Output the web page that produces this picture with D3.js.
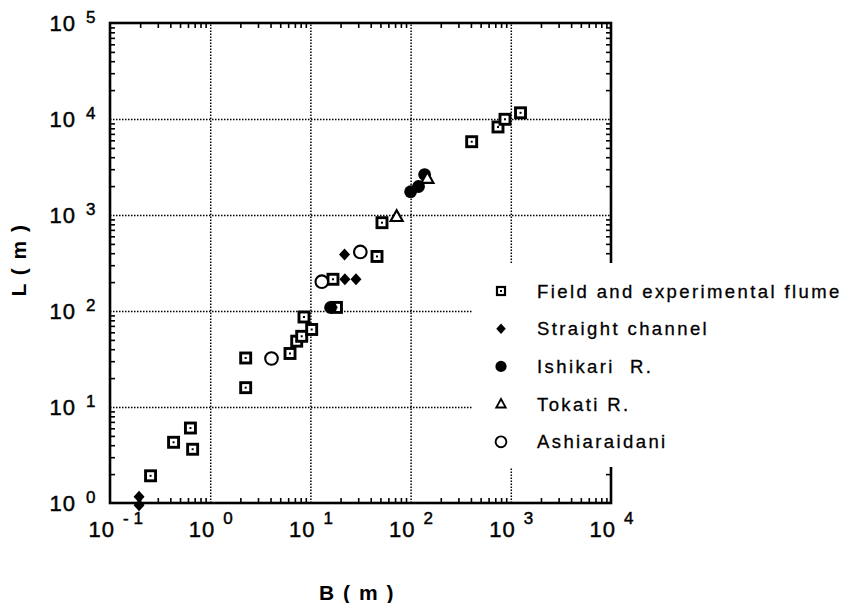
<!DOCTYPE html>
<html><head><meta charset="utf-8">
<script src="https://cdn.jsdelivr.net/npm/d3@7"></script>
<style>
html,body{margin:0;padding:0;background:#fff;}
svg{display:block;font-family:"Liberation Sans",Arial,Helvetica,sans-serif;}
</style></head><body>
<svg id="chart" width="848" height="603"></svg>
<script>
// Meander wavelength L against channel width B
const fieldB = [0.254, 0.431, 0.635, 0.668, 2.26, 2.26, 6.26, 7.30, 8.19, 8.63, 10.3, 16.8, 18.2, 46.2, 51.8, 407, 745, 875, 1250];
const fieldL = [1.92, 4.29, 6.04, 3.63, 32.4, 15.9, 36.1, 48.5, 54.5, 86.6, 64.2, 214, 109, 370, 832, 5800, 8260, 9930, 11600];
const straightB = [0.195, 0.195, 21.9, 22.1, 28.5];
const straightL = [1.16, 0.95, 388, 214, 214];
const ishikariB = [15.9, 100, 120, 138];
const ishikariL = [109, 1750, 1980, 2640];
const tokatiB = [72.6, 147];
const tokatiL = [960, 2400];
const ashiaraidaniB = [4.09, 13.0, 31.5];
const ashiaraidaniL = [32.0, 202, 412];

const xExponents = [-1, 0, 1, 2, 3, 4];
const yExponents = [0, 1, 2, 3, 4, 5];
const legendLabels = ["Field and experimental flume", "Straight channel", "Ishikari  R.", "Tokati R.", "Ashiaraidani"];
const xTitle = "B ( m )";
const yTitle = "L ( m )";

const svg = d3.select("#chart");
const plotLeft = 110, plotRight = 611, plotTop = 23, plotBottom = 503;

const x = d3.scaleLog().domain([0.1, 1e4]).range([plotLeft, plotRight]);
const y = d3.scaleLog().domain([1, 1e5]).range([plotBottom, plotTop]);

const decadesX = xExponents.map(e => Math.pow(10, e));
const decadesY = yExponents.map(e => Math.pow(10, e));
const minorOf = decs => {
  const out = [];
  decs.slice(0, -1).forEach(d => { for (let k = 2; k <= 9; k++) out.push(d * k); });
  return out;
};
const minorX = minorOf(decadesX), minorY = minorOf(decadesY);

// dotted grid at each decade
const gridStyle = g => {
  g.select(".domain").remove();
  g.selectAll(".tick line").attr("stroke", "#000").attr("stroke-width", 1.5).attr("stroke-dasharray", "1.5,1.5");
};
svg.append("g").attr("transform", `translate(0,${plotBottom})`)
  .call(d3.axisBottom(x).tickValues(decadesX.slice(1, -1)).tickSize(-(plotBottom - plotTop)).tickFormat(""))
  .call(gridStyle);
svg.append("g").attr("transform", `translate(${plotLeft},0)`)
  .call(d3.axisLeft(y).tickValues(decadesY.slice(1, -1)).tickSize(-(plotRight - plotLeft)).tickFormat(""))
  .call(gridStyle);

// inward minor ticks on all four sides
const tickStyle = g => {
  g.select(".domain").remove();
  g.selectAll(".tick line").attr("stroke", "#000").attr("stroke-width", 1.6);
};
const tl = 5;
svg.append("g").attr("transform", `translate(0,${plotBottom})`)
  .call(d3.axisBottom(x).tickValues(minorX).tickSize(-tl).tickFormat("")).call(tickStyle);
svg.append("g").attr("transform", `translate(0,${plotTop})`)
  .call(d3.axisTop(x).tickValues(minorX).tickSize(-tl).tickFormat("")).call(tickStyle);
svg.append("g").attr("transform", `translate(${plotLeft},0)`)
  .call(d3.axisLeft(y).tickValues(minorY).tickSize(-tl).tickFormat("")).call(tickStyle);
svg.append("g").attr("transform", `translate(${plotRight},0)`)
  .call(d3.axisRight(y).tickValues(minorY).tickSize(-tl).tickFormat("")).call(tickStyle);

// frame
svg.append("rect").attr("x", plotLeft).attr("y", plotTop)
  .attr("width", plotRight - plotLeft).attr("height", plotBottom - plotTop)
  .attr("fill", "none").attr("stroke", "#000").attr("stroke-width", 2.6);

// tick labels: 10 with raised exponent
const labelInk = g => g.attr("fill", "#000").attr("stroke", "#000").attr("stroke-width", 0.45);
const xl = svg.append("g").call(labelInk);
xExponents.forEach(e => {
  const px = x(Math.pow(10, e));
  xl.append("text").attr("x", px + 5).attr("y", 537).attr("text-anchor", "end")
    .attr("font-size", 22).attr("letter-spacing", 1).text("10");
  xl.append("text").attr("x", px + 13).attr("y", 524).attr("text-anchor", "start")
    .attr("font-size", 17).style("white-space", "pre").text(e < 0 ? "- " + Math.abs(e) : String(e));
});
const yl = svg.append("g").call(labelInk);
yExponents.forEach(e => {
  const py = y(Math.pow(10, e));
  yl.append("text").attr("x", 76).attr("y", py + 7.8).attr("text-anchor", "end")
    .attr("font-size", 22).attr("letter-spacing", 1).text("10");
  yl.append("text").attr("x", 86).attr("y", py - 0.5).attr("text-anchor", "start")
    .attr("font-size", 17).text(String(e));
});

// axis titles
svg.append("text").attr("x", 357).attr("y", 600).attr("text-anchor", "middle")
  .attr("font-size", 21).attr("font-weight", "bold").attr("letter-spacing", 1.5)
  .style("white-space", "pre").text(xTitle);
svg.append("text").attr("transform", "translate(26,260) rotate(-90)").attr("text-anchor", "middle")
  .attr("font-size", 21).attr("font-weight", "bold").attr("letter-spacing", 1.5)
  .style("white-space", "pre").text(yTitle);

// marker shapes
const drawSquare = (g, cx, cy, s, sw) => {
  g.append("rect").attr("x", cx - s / 2).attr("y", cy - s / 2).attr("width", s).attr("height", s)
    .attr("fill", "#fff").attr("stroke", "#000").attr("stroke-width", sw);
  g.append("rect").attr("x", cx - 1).attr("y", cy - 1).attr("width", 2).attr("height", 2).attr("fill", "#000");
};
const drawDiamond = (g, cx, cy, w, h) => {
  g.append("path").attr("d", `M${cx},${cy - h / 2}L${cx + w / 2},${cy}L${cx},${cy + h / 2}L${cx - w / 2},${cy}Z`)
    .attr("fill", "#000");
};
const drawDot = (g, cx, cy, r) => {
  g.append("circle").attr("cx", cx).attr("cy", cy).attr("r", r).attr("fill", "#000");
};
const drawTriangle = (g, cx, cy, w, sw) => {
  const h = w * 0.9;
  g.append("path").attr("d", `M${cx},${cy - h * 0.6}L${cx + w / 2},${cy + h * 0.4}L${cx - w / 2},${cy + h * 0.4}Z`)
    .attr("fill", "#fff").attr("stroke", "#000").attr("stroke-width", sw).attr("stroke-linejoin", "miter");
};
const drawRing = (g, cx, cy, r, sw) => {
  g.append("circle").attr("cx", cx).attr("cy", cy).attr("r", r)
    .attr("fill", "#fff").attr("stroke", "#000").attr("stroke-width", sw);
};

const marks = svg.append("g");
fieldB.forEach((b, i) => drawSquare(marks, x(b), y(fieldL[i]), 10, 2.9));
straightB.forEach((b, i) => drawDiamond(marks, x(b), y(straightL[i]), 11, 12));
ishikariB.forEach((b, i) => drawDot(marks, x(b), y(ishikariL[i]), 6.4));
tokatiB.forEach((b, i) => drawTriangle(marks, x(b), y(tokatiL[i]), 12, 2.2));
ashiaraidaniB.forEach((b, i) => drawRing(marks, x(b), y(ashiaraidaniL[i]), 6.3, 2.1));

// legend
const leg = svg.append("g");
leg.append("rect").attr("x", 472).attr("y", 263).attr("width", 376).attr("height", 204).attr("fill", "#fff");
const legX = 501, legY0 = 291, legStep = 37.7;
const legendDrawers = [
  (g, cy) => drawSquare(g, legX, cy, 8, 2.2),
  (g, cy) => drawDiamond(g, legX, cy, 9.5, 10.5),
  (g, cy) => drawDot(g, legX, cy, 5.6),
  (g, cy) => drawTriangle(g, legX, cy, 9.5, 1.8),
  (g, cy) => drawRing(g, legX, cy, 5.4, 1.9)
];
legendLabels.forEach((lab, i) => {
  const cy = legY0 + i * legStep;
  legendDrawers[i](leg, cy);
  leg.append("text").attr("x", 537).attr("y", cy + 6.5)
    .attr("font-size", 18.5).attr("letter-spacing", 2.4)
    .attr("stroke", "#000").attr("stroke-width", 0.3)
    .style("white-space", "pre").text(lab);
});
</script>
</body></html>
